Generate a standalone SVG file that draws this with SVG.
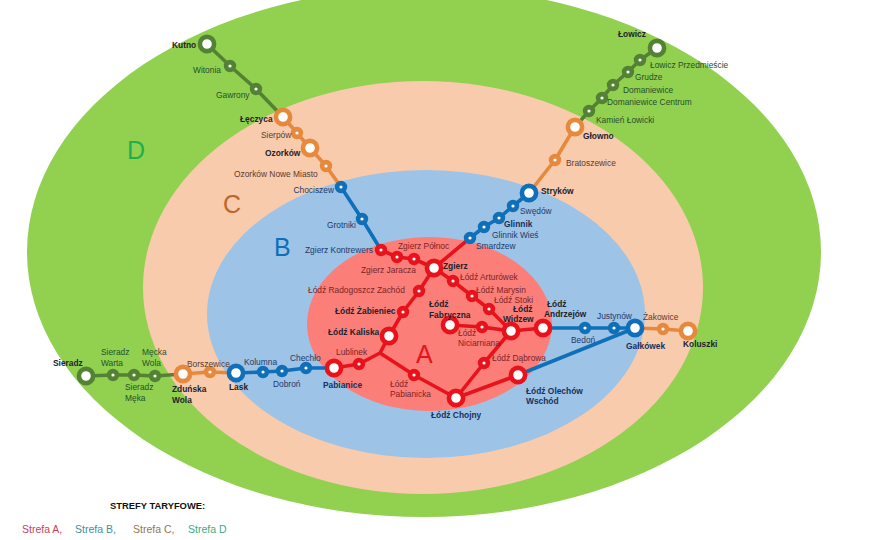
<svg xmlns="http://www.w3.org/2000/svg" width="880" height="540" viewBox="0 0 880 540">
<style>
text{font-family:"Liberation Sans",Arial,sans-serif;font-size:8.4px}
.b{font-weight:bold}
.tg{fill:#24502a}.to{fill:#5e3a2a}.tb{fill:#1f3a68}.tr{fill:#7c2326}.tk{fill:#22222c}.tn{fill:#17305c}
.s{fill:none;stroke-width:4.6}
.s{r:3.9px}
.l{fill:#fff;stroke-width:4.6}
.l{r:7.100px}
.R{stroke:#e8121c}.B{stroke:#0f6fb8}.O{stroke:#e6893d}.G{stroke:#548235}
.s.R,.s.B,.s.O,.s.G{fill:#fff}
#connectors polyline{fill:none;stroke-width:3.6;stroke-linejoin:round}
.z{font-size:25px}
.lg{font-size:10.5px}
.lh{font-size:9.400px}
</style>
<rect width="880" height="540" fill="#fff"/>
<g id="zones">
<ellipse cx="424" cy="252" rx="397" ry="265" fill="#92d050"/>
<ellipse cx="423" cy="287.500" rx="280" ry="206.500" fill="#f8cbad"/>
<ellipse cx="426" cy="314" rx="219" ry="144" fill="#9dc3e6"/>
<ellipse cx="429.500" cy="324" rx="122.500" ry="87" fill="#fb7f78"/>
</g>
<g id="zone-labels">
<text class="z" x="127" y="159" fill="#1db04f">D</text>
<text class="z" x="223" y="213" fill="#c0662a">C</text>
<text class="z" x="274" y="256" fill="#0f6fb8">B</text>
<text class="z" x="416" y="363" fill="#e8121c">A</text>
</g>
<g id="connectors">
<polyline class="G" points="207,44 230,66 256,89 283,117"/>
<polyline class="O" points="283,117 297,133 310,148 326,166 341,187"/>
<polyline class="B" points="341,187 362,219 381,250"/>
<polyline class="G" points="657,48 640,60 628,72 613,85 602,98 589,111 575,127"/>
<polyline class="O" points="575,127 555,160 529,193"/>
<polyline class="B" points="529,193 513,206 499,218 484,227 470,238"/>
<polyline class="G" points="86,376 113,375 134,375 155,376 183,374"/>
<polyline class="O" points="183,374 210,372 236,373"/>
<polyline class="B" points="236,373 263,372 282,371 306,368 334,368"/>
<polyline class="R" points="381,250 397,257 414,259 434,268"/>
<polyline class="R" points="470,238 434,268 419,291 403,312 389,336 380,353 359,364 334,368"/>
<polyline class="R" points="434,268 453,281 472,296 489,309 511,331"/>
<polyline class="R" points="380,353 414,375 456,398"/>
<polyline class="R" points="456,398 484,363 511,331"/>
<polyline class="R" points="456,398 518,375"/>
<polyline class="R" points="450,325 482,327 511,331 543,328"/>
<polyline class="B" points="543,328 585,328 614,328 635,328"/>
<polyline class="B" points="518,375 635,328"/>
<polyline class="O" points="635,328 663,329 688,331"/>
</g>
<g id="kutno"><circle class="l G" cx="207" cy="44"/><text class="b tk" x="172" y="48">Kutno</text></g>
<g id="witonia"><circle class="s G" cx="230" cy="66"/><text class="tg" x="193" y="73">Witonia</text></g>
<g id="gawrony"><circle class="s G" cx="256" cy="89"/><text class="tg" x="216" y="98">Gawrony</text></g>
<g id="leczyca"><circle class="l O" cx="283" cy="117"/><text class="b tk" x="240" y="122">Łęczyca</text></g>
<g id="sierpow"><circle class="s O" cx="297" cy="133"/><text class="to" x="261" y="138">Sierpów</text></g>
<g id="ozorkow"><circle class="l O" cx="310" cy="148"/><text class="b tk" x="265" y="156">Ozorków</text></g>
<g id="ozorkow-nm"><circle class="s O" cx="326" cy="166"/><text class="to" x="234" y="177">Ozorków Nowe Miasto</text></g>
<g id="chociszew"><circle class="s B" cx="341" cy="187"/><text class="tb" x="293.500" y="193">Chociszew</text></g>
<g id="grotniki"><circle class="s B" cx="362" cy="219"/><text class="tb" x="327" y="228">Grotniki</text></g>
<g id="zgierz-kontrewers"><circle class="s R" cx="381" cy="250"/><text class="tb" x="305" y="253">Zgierz Kontrewers</text></g>
<g id="zgierz-polnoc"><circle class="s R" cx="397" cy="257"/><text class="tr" x="398" y="249">Zgierz Północ</text></g>
<g id="zgierz-jaracza"><circle class="s R" cx="414" cy="259"/><text class="tr" x="361" y="273">Zgierz Jaracza</text></g>
<g id="zgierz"><circle class="l R" cx="434" cy="268"/><text class="b tk" x="443" y="269">Zgierz</text></g>
<g id="lodz-arturowek"><circle class="s R" cx="453" cy="281"/><text class="tr" x="460" y="280">Łódź Arturówek</text></g>
<g id="lodz-marysin"><circle class="s R" cx="472" cy="296"/><text class="tr" x="476" y="293">Łódź Marysin</text></g>
<g id="lodz-stoki"><circle class="s R" cx="489" cy="309"/><text class="tr" x="494" y="303">Łódź Stoki</text></g>
<g id="lodz-widzew"><circle class="l R" cx="511" cy="331"/><text class="b tk" x="513" y="312">Łódź</text><text class="b tk" x="503" y="322">Widzew</text></g>
<g id="lodz-andrzejow"><circle class="l R" cx="543" cy="328"/><text class="b tk" x="547" y="307">Łódź</text><text class="b tk" x="544" y="317">Andrzejów</text></g>
<g id="lodz-fabryczna"><circle class="l R" cx="450" cy="325"/><text class="b tk" x="429" y="307">Łódź</text><text class="b tk" x="429" y="318">Fabryczna</text></g>
<g id="lodz-niciarniana"><circle class="s R" cx="482" cy="327"/><text class="tr" x="458" y="336">Łódź</text><text class="tr" x="458" y="346">Niciarniana</text></g>
<g id="lodz-dabrowa"><circle class="s R" cx="484" cy="363"/><text class="tr" x="492" y="361">Łódź Dąbrowa</text></g>
<g id="lodz-chojny"><circle class="l R" cx="456" cy="398"/><text class="b tn" x="431" y="418">Łódź Chojny</text></g>
<g id="lodz-olechow"><circle class="l R" cx="518" cy="375"/><text class="b tn" x="526" y="394">Łódź Olechów</text><text class="b tn" x="526" y="404">Wschód</text></g>
<g id="lodz-pabianicka"><circle class="s R" cx="414" cy="375"/><text class="tr" x="390" y="387">Łódź</text><text class="tr" x="390" y="397">Pabianicka</text></g>
<g id="lodz-kaliska"><circle class="l R" cx="389" cy="336"/><text class="b tk" x="328" y="335">Łódź Kaliska</text></g>
<g id="lodz-zabieniec"><circle class="s R" cx="403" cy="312"/><text class="b tk" x="335" y="314">Łódź Żabieniec</text></g>
<g id="lodz-radogoszcz"><circle class="s R" cx="419" cy="291"/><text class="tr" x="308" y="293">Łódź Radogoszcz Zachód</text></g>
<g id="lublinek"><circle class="s R" cx="359" cy="364"/><text class="tr" x="336" y="355">Lublinek</text></g>
<g id="pabianice"><circle class="l R" cx="334" cy="368"/><text class="b tn" x="323" y="388">Pabianice</text></g>
<g id="chechlo"><circle class="s B" cx="306" cy="368"/><text class="tb" x="290" y="361">Chechło</text></g>
<g id="dobron"><circle class="s B" cx="282" cy="371"/><text class="tb" x="273" y="387">Dobroń</text></g>
<g id="kolumna"><circle class="s B" cx="263" cy="372"/><text class="tb" x="244" y="365">Kolumna</text></g>
<g id="lask"><circle class="l B" cx="236" cy="373"/><text class="b tk" x="229" y="390">Lask</text></g>
<g id="borszewice"><circle class="s O" cx="210" cy="372"/><text class="to" x="187" y="367">Borszewice</text></g>
<g id="zdunska-wola"><circle class="l O" cx="183" cy="374"/><text class="b tk" x="172" y="392">Zduńska</text><text class="b tk" x="172" y="403">Wola</text></g>
<g id="mecka-wola"><circle class="s G" cx="155" cy="376"/><text class="tg" x="142" y="355">Męcka</text><text class="tg" x="142" y="366">Wola</text></g>
<g id="sieradz-meka"><circle class="s G" cx="134" cy="375"/><text class="tg" x="125" y="390">Sieradz</text><text class="tg" x="125" y="401">Męka</text></g>
<g id="sieradz-warta"><circle class="s G" cx="113" cy="375"/><text class="tg" x="101" y="355">Sieradz</text><text class="tg" x="101" y="366">Warta</text></g>
<g id="sieradz"><circle class="l G" cx="86" cy="376"/><text class="b tk" x="53" y="366">Sieradz</text></g>
<g id="lowicz"><circle class="l G" cx="657" cy="48"/><text class="b tk" x="618" y="37">Łowicz</text></g>
<g id="lowicz-przedmiescie"><circle class="s G" cx="640" cy="60"/><text class="tg" x="650" y="68">Łowicz Przedmieście</text></g>
<g id="grudze"><circle class="s G" cx="628" cy="72"/><text class="tg" x="635" y="80">Grudze</text></g>
<g id="domaniewice"><circle class="s G" cx="613" cy="85"/><text class="tg" x="623" y="93">Domaniewice</text></g>
<g id="domaniewice-centrum"><circle class="s G" cx="602" cy="98"/><text class="tg" x="607" y="105">Domaniewice Centrum</text></g>
<g id="kamien-lowicki"><circle class="s G" cx="589" cy="111"/><text class="tg" x="596" y="123">Kamień Łowicki</text></g>
<g id="glowno"><circle class="l O" cx="575" cy="127"/><text class="b tk" x="583" y="139">Głowno</text></g>
<g id="bratoszewice"><circle class="s O" cx="555" cy="160"/><text class="to" x="566" y="166">Bratoszewice</text></g>
<g id="strykow"><circle class="l B" cx="529" cy="193"/><text class="b tk" x="541" y="194">Stryków</text></g>
<g id="swedow"><circle class="s B" cx="513" cy="206"/><text class="tb" x="520" y="214">Swędów</text></g>
<g id="glinnik"><circle class="s B" cx="499" cy="218"/><text class="b tn" x="504" y="227">Glinnik</text></g>
<g id="glinnik-wies"><circle class="s B" cx="484" cy="227"/><text class="tb" x="492" y="238">Glinnik Wieś</text></g>
<g id="smardzew"><circle class="s B" cx="470" cy="238"/><text class="tb" x="476" y="249">Smardzew</text></g>
<g id="bedon"><circle class="s B" cx="585" cy="328"/><text class="tb" x="571" y="343">Bedoń</text></g>
<g id="justynow"><circle class="s B" cx="614" cy="328"/><text class="tb" x="597" y="319">Justynów</text></g>
<g id="galkowek"><circle class="l B" cx="635" cy="328"/><text class="b tn" x="626" y="349">Gałkówek</text></g>
<g id="zakowice"><circle class="s O" cx="663" cy="329"/><text class="to" x="643" y="320">Żakowice</text></g>
<g id="koluszki"><circle class="l O" cx="688" cy="331"/><text class="b tk" x="683" y="347">Koluszki</text></g>
<g id="legend">
<text class="b lh" x="110" y="509" fill="#111">STREFY TARYFOWE:</text>
<text class="lg" x="22" y="533" fill="#c0455a">Strefa A,</text>
<text class="lg" x="75" y="533" fill="#3e8fa5">Strefa B,</text>
<text class="lg" x="133" y="533" fill="#8c7a5a">Strefa C,</text>
<text class="lg" x="188" y="533" fill="#3daa7d">Strefa D</text>
</g>
</svg>
